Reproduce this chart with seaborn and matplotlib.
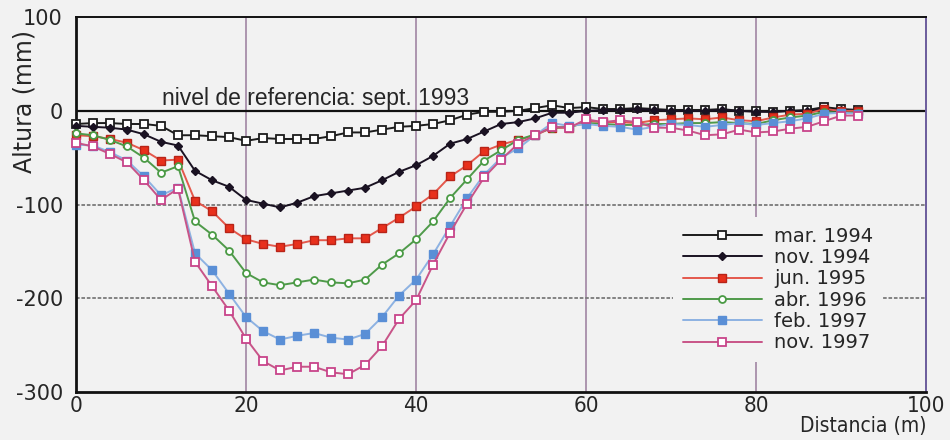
import numpy as np
import pandas as pd
import seaborn as sns
import matplotlib
matplotlib.use('Agg')
import matplotlib.pyplot as plt
from matplotlib.ticker import MultipleLocator

# distancia (m), una medida cada 2 m
distancia = [0, 2, 4, 6, 8, 10, 12, 14, 16, 18, 20, 22, 24, 26, 28, 30, 32, 34, 36, 38,
             40, 42, 44, 46, 48, 50, 52, 54, 56, 58, 60, 62, 64, 66, 68, 70, 72, 74, 76, 78,
             80, 82, 84, 86, 88, 90, 92]

# altura (mm) de cada campaña
mar_1994 = [-14, -13, -13, -14, -14, -16, -26, -26, -27, -28,
            -32, -29, -30, -30, -30, -27, -23, -23, -20, -17,
            -16, -14, -10, -4, -1, -1, 0, 3, 6, 3,
            4, 2, 2, 3, 2, 1, 1, 1, 2, 0,
            0, -1, 0, 1, 4, 2, 1]
nov_1994 = [-16, -17, -18, -20, -25, -33, -37, -64, -74, -81,
            -95, -99, -103, -98, -91, -88, -85, -82, -74, -65,
            -58, -48, -35, -30, -22, -14, -12, -8, -2, -2,
            0, 1, 1, 2, 1, 0, 0, 0, 1, 0,
            -1, -1, 0, 0, 2, 1, 0]
jun_1995 = [-26, -27, -30, -34, -42, -53, -52, -96, -107, -125,
            -137, -142, -145, -142, -138, -138, -136, -136, -125, -114,
            -102, -89, -70, -58, -43, -36, -31, -26, -18, -18,
            -11, -12, -12, -13, -10, -9, -8, -9, -7, -10,
            -11, -7, -4, -3, 2, 0, 0]
abr_1996 = [-24, -26, -31, -38, -50, -66, -59, -118, -132, -149,
            -173, -183, -186, -183, -180, -183, -184, -180, -164, -152,
            -137, -118, -93, -73, -53, -42, -31, -25, -18, -17,
            -13, -14, -15, -15, -14, -14, -13, -13, -12, -13,
            -14, -10, -7, -5, -1, -2, -2]
feb_1997 = [-36, -37, -44, -53, -70, -90, -82, -152, -170, -195,
            -220, -235, -244, -240, -237, -242, -244, -238, -220, -197,
            -180, -153, -123, -93, -68, -50, -40, -26, -13, -16,
            -14, -16, -17, -20, -17, -14, -15, -17, -15, -13,
            -15, -13, -11, -8, -3, -2, -3]
nov_1997 = [-34, -38, -46, -55, -74, -95, -83, -161, -187, -213,
            -243, -267, -277, -273, -273, -279, -281, -271, -251, -222,
            -202, -164, -130, -99, -71, -52, -35, -26, -17, -18,
            -9, -12, -10, -12, -18, -18, -21, -26, -25, -20,
            -23, -22, -19, -17, -11, -5, -5]

campanas = ['mar. 1994', 'nov. 1994', 'jun. 1995', 'abr. 1996', 'feb. 1997', 'nov. 1997']
series = [mar_1994, nov_1994, jun_1995, abr_1996, feb_1997, nov_1997]

# estilo de cada serie: color de línea, marcador, relleno, borde, tamaño
estilos = {
    'mar. 1994': dict(color='#1c1c1c', marker='s', mfc='white', mec='#1c1c1c', ms=5.5, mew=1.3),
    'nov. 1994': dict(color='#1a1222', marker='D', mfc='#1a1222', mec='#1a1222', ms=4, mew=1),
    'jun. 1995': dict(color='#e4584c', marker='s', mfc='#e8301c', mec='#b82418', ms=6, mew=1),
    'abr. 1996': dict(color='#4f9a4a', marker='o', mfc='white', mec='#4a9a44', ms=5, mew=1.3),
    'feb. 1997': dict(color='#8db2e2', marker='s', mfc='#5a8fd6', mec='#5a8fd6', ms=6, mew=1),
    'nov. 1997': dict(color='#c85488', marker='s', mfc='white', mec='#c8448a', ms=5.5, mew=1.3),
}

df = pd.concat([pd.DataFrame({'distancia': distancia, 'altura': s, 'campana': c})
                for c, s in zip(campanas, series)], ignore_index=True)

sns.set_style('white')
plt.rcParams['font.family'] = ['DejaVu Sans']
plt.rcParams['axes.unicode_minus'] = False
bg = '#f2f2f2'

fig = plt.figure(figsize=(9.5, 4.4), dpi=100, facecolor=bg)
ax = fig.add_axes([0.08, 0.109, 0.895, 0.852])
ax.set_facecolor(bg)

# rejilla
for xv in [20, 40, 60, 80]:
    ax.axvline(xv, color='#9a7c9c', lw=1.1, zorder=1)
for yv in [-100, -200]:
    ax.axhline(yv, color='#7a7a7a', lw=1.3, ls=(0, (2, 1)), zorder=1)
ax.axhline(0, color='#111111', lw=1.6, zorder=1)

for c in campanas:
    sub = df[df['campana'] == c]
    st = estilos[c]
    sns.lineplot(data=sub, x='distancia', y='altura', ax=ax, label=c,
                 color=st['color'], marker=st['marker'], markerfacecolor=st['mfc'],
                 markeredgecolor=st['mec'], markersize=st['ms'], markeredgewidth=st['mew'],
                 linewidth=1.4, clip_on=False, zorder=3)

ax.set_xlim(0, 100)
ax.set_ylim(-300, 100)
ax.set_xticks([0, 20, 40, 60, 80, 100])
ax.set_yticks([100, 0, -100, -200, -300])
ax.xaxis.set_minor_locator(MultipleLocator(10))
ax.yaxis.set_minor_locator(MultipleLocator(50))
ax.tick_params(axis='y', which='major', direction='out', length=8, width=1.5, labelsize=15, pad=1.5)
ax.tick_params(axis='y', which='minor', direction='out', length=3, width=1.2)
ax.tick_params(axis='x', which='major', direction='inout', length=6, width=1.5, pad=0)
ax.tick_params(axis='x', which='minor', direction='inout', length=4, width=1.2)
for lab in ax.get_xticklabels():
    lab.set_fontstretch('condensed')
    lab.set_fontsize(16)

for side in ['left', 'bottom']:
    ax.spines[side].set_color('#111111')
    ax.spines[side].set_linewidth(2)
ax.spines['top'].set_color('#111111')
ax.spines['top'].set_linewidth(1.4)
ax.spines['right'].set_color('#6c5c9c')
ax.spines['right'].set_linewidth(1.4)

ax.set_xlabel('Distancia (m)', fontsize=15, fontstretch='condensed', ha='right')
ax.xaxis.set_label_coords(1.0, -0.064)
ax.set_ylabel('Altura (mm)', fontsize=17)
ax.yaxis.set_label_coords(-0.046, 0.775)

ax.text(10.1, 6, 'nivel de referencia: sept. 1993', fontsize=16.5, va='baseline', ha='left',
        family=['Liberation Sans', 'DejaVu Sans'])

ax.legend(loc='upper left', bbox_to_anchor=(0.702, 0.467), frameon=True, facecolor=bg,
          edgecolor='none', framealpha=1, fontsize=14, handlelength=4.1, handletextpad=0.6,
          labelspacing=0.12, borderpad=0.5, borderaxespad=0)

fig.savefig('out.png', dpi=100, facecolor=bg)
